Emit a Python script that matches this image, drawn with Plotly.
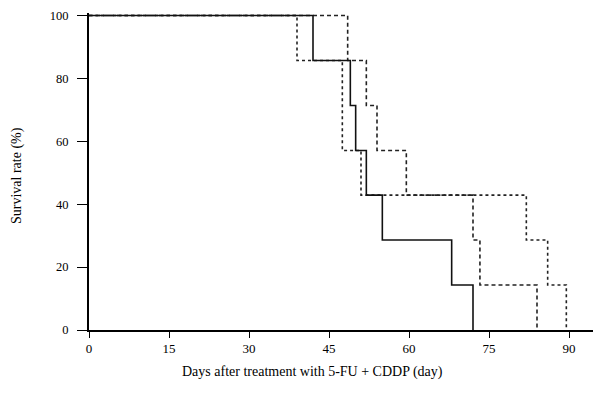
import plotly.graph_objects as go

# Kaplan-Meier style survival data (days, survival %)
solid_days = [0, 42, 49, 50, 52, 55, 68, 72]
solid_surv = [100, 85.7, 71.4, 57.1, 42.9, 28.6, 14.3, 0]

dotted_days = [0, 39, 47.5, 51, 82, 86, 89.5]
dotted_surv = [100, 85.7, 57.1, 42.9, 28.6, 14.3, 0]

dashed_days = [0, 48.5, 52, 54, 59.5, 72, 73.3, 84]
dashed_surv = [100, 85.7, 71.4, 57.1, 42.9, 28.6, 14.3, 0]

x_ticks = [0, 15, 30, 45, 60, 75, 90]
y_ticks = [0, 20, 40, 60, 80, 100]

FONT = "Liberation Serif"

fig = go.Figure()
fig.add_trace(go.Scatter(x=dotted_days, y=dotted_surv, mode="lines", line_shape="hv",
                         line=dict(color="#222", width=1.6, dash="dot"), showlegend=False))
fig.add_trace(go.Scatter(x=dashed_days, y=dashed_surv, mode="lines", line_shape="hv",
                         line=dict(color="#222", width=1.6, dash="4px,3px"), showlegend=False))
fig.add_trace(go.Scatter(x=solid_days, y=solid_surv, mode="lines", line_shape="hv",
                         line=dict(color="#111", width=1.6), showlegend=False))

fig.update_layout(
    width=593, height=405,
    margin=dict(l=81, r=0, t=5, b=83),
    paper_bgcolor="white", plot_bgcolor="white",
    font=dict(family=FONT, color="black", size=12),
    xaxis=dict(range=[0, 96], tickvals=x_ticks, ticktext=[str(v) for v in x_ticks],
               showgrid=False, zeroline=False, showline=True, linecolor="black", linewidth=1.5,
               ticks="outside", ticklen=6, tickwidth=1.2, tickcolor="black",
               tickfont=dict(family=FONT, size=13, color="black")),
    yaxis=dict(range=[0, 100.8], tickvals=y_ticks,
               ticktext=[str(v) + "\u00a0\u00a0" for v in y_ticks],
               showgrid=False, zeroline=False, showline=True, linecolor="black", linewidth=1.5,
               ticks="outside", ticklen=10, tickwidth=1.2, tickcolor="black",
               tickfont=dict(family=FONT, size=12.5, color="black")),
    annotations=[
        dict(text="Days after treatment with 5-FU + CDDP (day)", xref="paper", yref="paper",
             x=(312 - 89) / 512, y=-(372 - 330) / 317, xanchor="center", yanchor="middle",
             showarrow=False, font=dict(family=FONT, size=14, color="black")),
        dict(text="Survival rate (%)", xref="paper", yref="paper",
             x=-(89 - 17) / 512, y=(330 - 176) / 317, xanchor="center", yanchor="middle",
             textangle=-90, showarrow=False, font=dict(family=FONT, size=14, color="black")),
    ],
)

fig.write_html("out.html")
